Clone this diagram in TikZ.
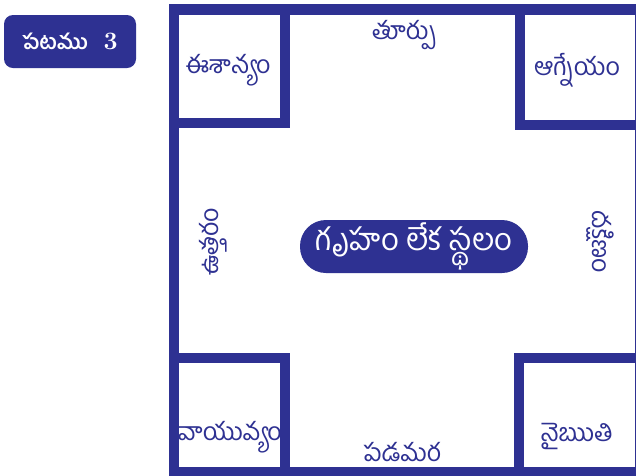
\documentclass[tikz,border=0pt]{standalone}
\usepackage{fontspec}
\newfontfamily\tel[Script=Telugu]{Hind Guntur}
\definecolor{navy}{HTML}{2E3192}
\begin{document}
\begin{tikzpicture}[x=1pt,y=-1pt,
  wall/.style={draw=navy,line width=10.5pt},
  lbl/.style={text=navy,font=\tel\fontsize{25}{30}\selectfont,inner sep=0pt},
  pill/.style={fill=navy,text=white,inner sep=0pt}]
\useasboundingbox (0,0) rectangle (636,475);
\clip (0,0) rectangle (636,475);
\fill[white] (0,0) rectangle (636,475);
% outer frame
\draw[wall] (174,9.5) rectangle (640,472.5);
% corner rooms
\draw[wall] (285,9.5) -- (285,123) -- (174,123);
\draw[wall] (520,9.5) -- (520,125) -- (640,125);
\draw[wall] (174,358) -- (285,358) -- (285,472.5);
\draw[wall] (519,472.5) -- (519,358) -- (640,358);
% title
\node[pill,rounded corners=9pt,minimum width=132pt,minimum height=53pt,
  font=\tel\bfseries\fontsize{21}{25}\selectfont] (title) at (70,41.5) {పటము\ \ \ {\rmfamily\bfseries\fontsize{25}{25}\selectfont 3}};
% centre
\node[pill,rounded corners=26pt,minimum width=228pt,minimum height=53pt,
  font=\tel\fontsize{31}{36}\selectfont] (centre) at (414,246.5) {గృహం లేక స్థలం};
% labels
\node[lbl] (ne) at (228,70) {ఈశాన్యం};
\node[lbl] (east) at (404,35) {తూర్పు};
\node[lbl] (se) at (577,70) {ఆగ్నేయం};
\node[lbl,rotate=90] (north) at (213,242) {ఉత్తరం};
\node[lbl,rotate=-90] (south) at (600,242) {దక్షిణం};
\node[lbl] (nw) at (230,437) {వాయువ్యం};
\node[lbl,text depth=0pt,anchor=base] (west) at (402,461) {పడమర};
\node[lbl] (sw) at (577,436) {నైఋతి};
\end{tikzpicture}
\end{document}
